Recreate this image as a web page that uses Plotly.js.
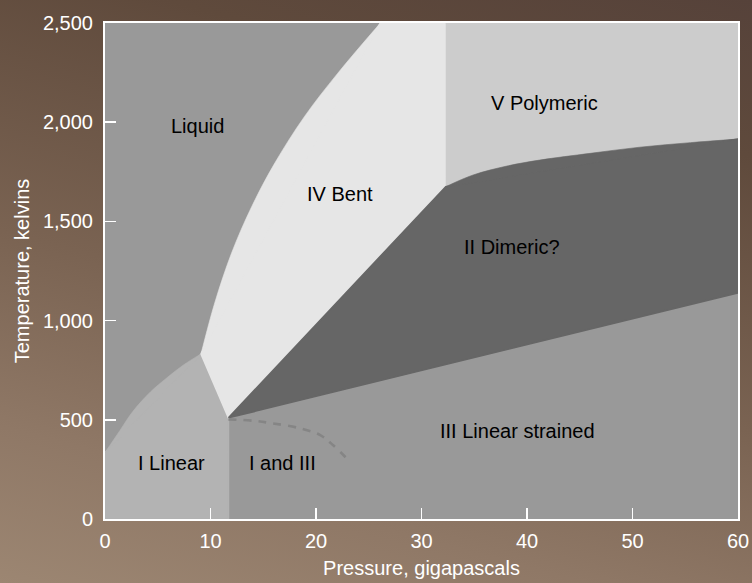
<!DOCTYPE html>
<html>
<head>
<meta charset="utf-8">
<script src="https://cdn.plot.ly/plotly-3.0.1.min.js"></script>
<style>
  html, body { margin: 0; padding: 0; }
  body { width: 752px; height: 583px; overflow: hidden;
         background: linear-gradient(195deg, #56423a 0%, #5f4a3c 20%, #7a6352 55%, #8f7866 80%, #9c8672 100%); }
  #chart { width: 752px; height: 583px; }
</style>
</head>
<body>
<div id="chart"></div>
<script>
// ---- Data (pressure in GPa, temperature in K) ----
// Triple point where I, IV, II and III meet
const tripleP = 11.7;
const tripleT = 510;

// Melting curve of phase I (I / Liquid boundary)
const meltI_P = [0, 1.4, 2.65, 4.3, 5.9, 7.4, 9.1];
const meltI_T = [335, 445, 543, 640, 713, 775, 832];

// Melting curve of phase IV (IV / Liquid boundary)
const meltIV_P = [9.1, 10.4, 12.0, 13.9, 16.05, 18.9, 22.05, 26.1];
const meltIV_T = [832, 1089, 1341, 1574, 1790, 2028, 2246, 2500];

// IV / V boundary (vertical) and IV/V/II corner
const cornerP = 32.3;
const cornerT = 1675;

// V / II boundary
const V_II_P = [32.3, 34.9, 38.1, 41.2, 46.0, 50.7, 55.5, 60];
const V_II_T = [1675, 1734, 1779, 1809, 1843, 1874, 1897, 1915];

// II / III boundary end at 60 GPa
const II_III_endP = 60;
const II_III_endT = 1140;

// Dashed I / III boundary
const dashP = [11.7, 14.1, 15.9, 18.5, 20.4, 21.6, 23.3];
const dashT = [502, 495, 482, 457, 423, 373, 284];

// Axis limits / ticks
const pMax = 60, tMax = 2500;
const xTicks = [0, 10, 20, 30, 40, 50, 60];
const yTicks = [0, 500, 1000, 1500, 2000, 2500];

// Region labels
const labelText = ['Liquid', 'IV Bent', 'V Polymeric', 'II Dimeric?', 'III Linear strained', 'I Linear', 'I and III'];
const labelP = [8.8, 22.3, 41.7, 38.6, 39.1, 6.35, 16.8];
const labelT = [1980, 1638, 2095, 1371, 443, 282, 282];

// ---- Build region shapes from the boundaries ----
const first = a => a[0];
const last = a => a[a.length - 1];

// straight-edged polygon part of a region
function region(P, T, color) {
  return { type: 'scatter', mode: 'lines', x: P, y: T, fill: 'toself',
           fillcolor: color, line: { color: color, width: 1.6 },
           hoverinfo: 'skip', showlegend: false };
}
// the part between a curved boundary and its chord
function lens(P, T, color) {
  return { type: 'scatter', mode: 'lines', x: P, y: T, fill: 'toself',
           fillcolor: color, line: { color: color, width: 0.6, shape: 'spline', smoothing: 1 },
           hoverinfo: 'skip', showlegend: false };
}

const colI = '#b3b3b3', colIV = '#e6e6e6', colV = '#cccccc', colII = '#666666';

const traces = [
  // Phase I: chord polygon + lens under melting curve
  region([0, first(meltI_P), last(meltI_P), tripleP, tripleP, 0],
         [0, first(meltI_T), last(meltI_T), tripleT, 0, 0], colI),
  lens(meltI_P, meltI_T, colI),
  // Phase IV
  region([first(meltIV_P), last(meltIV_P), cornerP, cornerP, tripleP, first(meltIV_P)],
         [first(meltIV_T), last(meltIV_T), tMax, cornerT, tripleT, first(meltIV_T)], colIV),
  lens(meltIV_P, meltIV_T, colIV),
  // Phase V
  region([cornerP, pMax, last(V_II_P), first(V_II_P)],
         [tMax, tMax, last(V_II_T), first(V_II_T)], colV),
  // Phase II
  region([tripleP, first(V_II_P), last(V_II_P), II_III_endP, tripleP],
         [tripleT, first(V_II_T), last(V_II_T), II_III_endT, tripleT], colII),
  lens(V_II_P, V_II_T, colII),
  // dashed I / III boundary
  { type: 'scatter', mode: 'lines', x: dashP, y: dashT,
    line: { color: '#858585', width: 2.6, dash: '8px,7px', shape: 'spline' },
    hoverinfo: 'skip', showlegend: false }
];

const font = 'Liberation Sans, Arial, Helvetica, sans-serif';

const annotations = labelText.map((t, i) => ({
  x: labelP[i], y: labelT[i], xref: 'x', yref: 'y', text: t, showarrow: false,
  font: { family: font, size: 20, color: '#000000' }, xanchor: 'center', yanchor: 'middle'
}));

const axisCommon = {
  showgrid: false, zeroline: false, showline: true, linecolor: '#ffffff', linewidth: 2,
  mirror: true, ticks: 'inside', ticklen: 11, tickwidth: 1.5, tickcolor: '#ffffff',
  tickfont: { family: font, size: 20, color: '#ffffff' }, fixedrange: true
};

const layout = {
  width: 752, height: 583,
  margin: { l: 105, r: 14, t: 23, b: 64, pad: 0 },
  paper_bgcolor: 'rgba(0,0,0,0)',
  plot_bgcolor: '#999999',
  font: { family: font },
  showlegend: false,
  xaxis: Object.assign({}, axisCommon, {
    range: [0, pMax], tickvals: xTicks, ticklabelstandoff: 3,
    title: { text: 'Pressure, gigapascals', font: { family: font, size: 20, color: '#ffffff' }, standoff: 10 }
  }),
  yaxis: Object.assign({}, axisCommon, {
    range: [0, tMax], tickvals: yTicks, tickformat: ',d', ticklabelstandoff: 6,
    title: { text: 'Temperature, kelvins', font: { family: font, size: 20, color: '#ffffff' }, standoff: 8 }
  }),
  annotations: annotations
};

Plotly.newPlot('chart', traces, layout, { displayModeBar: false, staticPlot: true });
</script>
</body>
</html>
